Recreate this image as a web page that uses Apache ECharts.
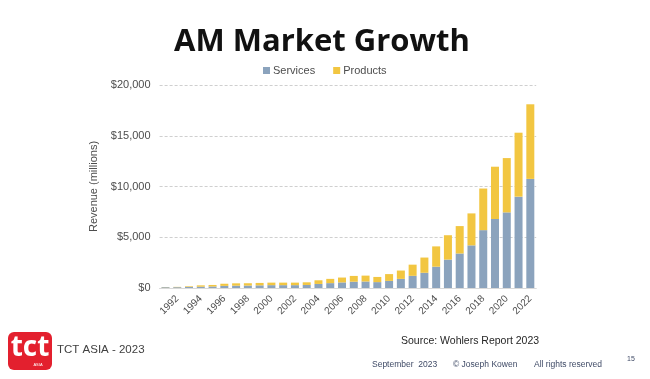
<!DOCTYPE html>
<html>
<head>
<meta charset="utf-8">
<script src="https://cdn.jsdelivr.net/npm/echarts@6/dist/echarts.min.js"></script>
<style>
html,body{margin:0;padding:0;background:#fff;}
#chart{width:650px;height:379px;}
</style>
</head>
<body>
<div id="chart"></div>
<script>
const years = ['1991','1992','1993','1994','1995','1996','1997','1998','1999','2000',
  '2001','2002','2003','2004','2005','2006','2007','2008','2009','2010',
  '2011','2012','2013','2014','2015','2016','2017','2018','2019','2020','2021','2022'];
const services = [80,80,110,130,150,210,230,240,260,280,
  280,280,300,400,480,550,620,640,580,700,
  900,1200,1500,2100,2800,3400,4200,5700,6800,7450,9000,10750];
const products = [20,30,60,130,150,210,230,230,240,250,
  250,250,260,360,420,480,570,580,510,670,
  820,1100,1500,2000,2400,2700,3150,4100,5150,5350,6300,7350];
const yTicks = [0,5000,10000,15000,20000];

const chart = echarts.init(document.getElementById('chart'), null, {renderer:'canvas'});
const labelFont = 'Liberation Sans, Arial, sans-serif';
chart.setOption({
  backgroundColor:'#ffffff',
  animation:false,
  title:{
    text:'AM Market Growth',
    left:317, top:22, textAlign:'center',
    textStyle:{fontFamily:'Open Sans, sans-serif', fontWeight:'bold', fontSize:31, color:'#111111'}
  },
  legend:{
    data:['Services','Products'],
    top:60, left:258,
    itemWidth:7, itemHeight:7, itemGap:18,
    icon:'rect',
    textStyle:{fontFamily:labelFont, fontSize:11, color:'#4d4d4d', padding:[0,0,0,-2]}
  },
  grid:{left:159.6, right:113.8, top:85, bottom:91, containLabel:false},
  xAxis:{
    type:'category',
    data:years,
    axisLine:{lineStyle:{color:'#d9d9d9'}},
    axisTick:{show:false},
    axisLabel:{
      interval:function(i,v){return Number(v)%2===0;},
      rotate:45, margin:9,
      fontFamily:labelFont, fontSize:10, color:'#4d4d4d'
    }
  },
  yAxis:{
    type:'value',
    min:yTicks[0], max:yTicks[yTicks.length-1], interval:5000,
    name:'Revenue (millions)',
    nameLocation:'middle', nameGap:54,
    nameTextStyle:{fontFamily:labelFont, fontSize:11, color:'#4d4d4d'},
    axisLine:{show:false},
    axisTick:{show:false},
    axisLabel:{
      margin:9,
      fontFamily:labelFont, fontSize:11, color:'#4d4d4d',
      formatter:function(v){return '$'+v.toLocaleString('en-US');}
    },
    splitLine:{lineStyle:{color:'#cfcfcf', type:[3,2], width:1}}
  },
  series:[
    {name:'Services', type:'bar', stack:'total', data:services,
     barCategoryGap:'32%', itemStyle:{color:'#8ba3bd'}},
    {name:'Products', type:'bar', stack:'total', data:products,
     barCategoryGap:'32%', itemStyle:{color:'#f2c641'}}
  ],
  graphic:[
    {type:'rect', left:8, top:332, shape:{width:44, height:38, r:6}, style:{fill:'#e3202e'}},
    {type:'text', x:30, y:348, style:{text:'tct', fill:'#ffffff', fontFamily:'Open Sans', fontWeight:'bold', fontSize:28, align:'center', verticalAlign:'middle'}},
    {type:'text', x:38, y:365, style:{text:'ASIA', fill:'#ffffff', fontFamily:'Liberation Sans', fontSize:4, align:'center', verticalAlign:'middle'}},
    {type:'text', x:57, y:350, style:{text:'TCT ASIA - 2023', fill:'#404040', fontFamily:'Liberation Sans', fontSize:11.5, verticalAlign:'middle'}},
    {type:'text', x:401, y:341, style:{text:'Source: Wohlers Report 2023', fill:'#262626', fontFamily:'Liberation Sans', fontSize:10.5, verticalAlign:'middle'}},
    {type:'text', x:372, y:365, style:{text:'September  2023', fill:'#3f4a66', fontFamily:'Liberation Sans', fontSize:8.5, verticalAlign:'middle'}},
    {type:'text', x:453, y:365, style:{text:'\u00A9 Joseph Kowen', fill:'#3f4a66', fontFamily:'Liberation Sans', fontSize:8.5, verticalAlign:'middle'}},
    {type:'text', x:534, y:365, style:{text:'All rights reserved', fill:'#3f4a66', fontFamily:'Liberation Sans', fontSize:8.5, verticalAlign:'middle'}},
    {type:'text', x:627, y:359, style:{text:'15', fill:'#3f4a66', fontFamily:'Liberation Sans', fontSize:7, verticalAlign:'middle'}}
  ]
});
</script>
</body>
</html>
